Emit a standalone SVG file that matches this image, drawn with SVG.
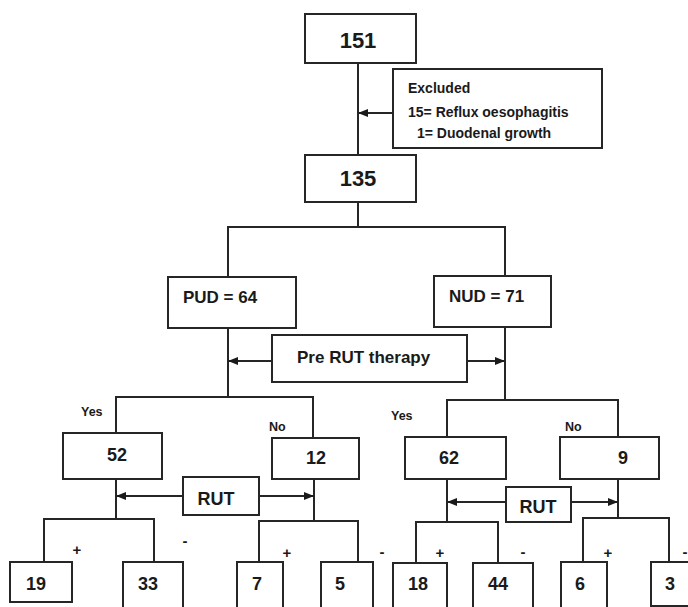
<svg xmlns="http://www.w3.org/2000/svg" width="688" height="607" viewBox="0 0 688 607">
<defs>
<style>
.box{fill:#fff;stroke:#262626;stroke-width:2}
.ln{fill:none;stroke:#262626;stroke-width:2}
.t{font-family:"Liberation Sans",Arial,sans-serif;font-weight:bold;fill:#1a1a1a}
.big{font-size:22px;text-anchor:middle}
.mid{font-size:17px}
.num{font-size:18px;text-anchor:middle}
.sm{font-size:14px}
.lab{font-size:12.5px}
.pm{font-size:15px;text-anchor:middle}
</style>
<marker id="ah" viewBox="0 0 10 10" refX="9" refY="5" markerWidth="10" markerHeight="10" markerUnits="userSpaceOnUse" orient="auto">
<path d="M0,1 L10,5 L0,9 Z" fill="#1a1a1a"/>
</marker>
</defs>
<rect width="688" height="607" fill="#fff"/>
<g id="connectors">
<path class="ln" d="M358,63 V155"/>
<path class="ln" d="M393,113 H359" marker-end="url(#ah)"/>
<path class="ln" d="M358,202 V227 M228,277 V227 H505 V276"/>
<path class="ln" d="M228,328 V397 M505,327 V400"/>
<path class="ln" d="M272,361 H229" marker-end="url(#ah)"/>
<path class="ln" d="M467,361 H504" marker-end="url(#ah)"/>
<path class="ln" d="M116,433 V397 H313 V438"/>
<path class="ln" d="M447,437 V400 H618 V437"/>
<path class="ln" d="M116,479 V519 M314,479 V521"/>
<path class="ln" d="M183,496 H117" marker-end="url(#ah)"/>
<path class="ln" d="M259,496 H313" marker-end="url(#ah)"/>
<path class="ln" d="M44,562 V519 H154 V562"/>
<path class="ln" d="M259,562 V521 H358 V562"/>
<path class="ln" d="M447,479 V522 M618,479 V518"/>
<path class="ln" d="M506,502 H448" marker-end="url(#ah)"/>
<path class="ln" d="M571,502 H617" marker-end="url(#ah)"/>
<path class="ln" d="M416,563 V522 H498 V563"/>
<path class="ln" d="M583,562 V518 H669 V562"/>
</g>
<g id="n151"><rect class="box" x="305" y="14" width="111" height="49"/><text class="t big" x="358" y="48">151</text></g>
<g id="excluded"><rect class="box" x="393" y="69" width="209" height="79"/>
<text class="t sm" x="408" y="93">Excluded</text>
<text class="t sm" x="408" y="117">15= Reflux oesophagitis</text>
<text class="t sm" x="417" y="138">1= Duodenal growth</text></g>
<g id="n135"><rect class="box" x="305" y="155" width="111" height="47"/><text class="t big" x="358" y="186">135</text></g>
<g id="pud"><rect class="box" x="168" y="277" width="128" height="51"/><text class="t mid" x="183" y="303">PUD = 64</text></g>
<g id="nud"><rect class="box" x="434" y="276" width="117" height="51"/><text class="t mid" x="449" y="302">NUD = 71</text></g>
<g id="prerut"><rect class="box" x="272" y="335" width="195" height="47"/><text class="t mid" x="297" y="363">Pre RUT therapy</text></g>
<g id="n52"><rect class="box" x="63" y="433" width="99" height="46"/><text class="t num" x="117" y="461">52</text></g>
<g id="n12"><rect class="box" x="272" y="438" width="87" height="41"/><text class="t num" x="316" y="464">12</text></g>
<g id="rut1"><rect class="box" x="183" y="477" width="76" height="38"/><text class="t num" x="216" y="505">RUT</text></g>
<g id="n62"><rect class="box" x="405" y="437" width="101" height="42"/><text class="t num" x="449" y="464">62</text></g>
<g id="n9"><rect class="box" x="560" y="437" width="99" height="42"/><text class="t num" x="623" y="464">9</text></g>
<g id="rut2"><rect class="box" x="506" y="487" width="65" height="35"/><text class="t num" x="538" y="513">RUT</text></g>
<g id="n19"><rect class="box" x="10" y="562" width="62" height="40"/><text class="t num" x="36" y="590">19</text></g>
<g id="n33"><rect class="box" x="123" y="562" width="60" height="60"/><text class="t num" x="148" y="590">33</text></g>
<g id="n7"><rect class="box" x="237" y="562" width="46" height="60"/><text class="t num" x="257" y="590">7</text></g>
<g id="n5"><rect class="box" x="321" y="562" width="52" height="60"/><text class="t num" x="340" y="590">5</text></g>
<g id="n18"><rect class="box" x="393" y="563" width="54" height="60"/><text class="t num" x="418" y="590">18</text></g>
<g id="n44"><rect class="box" x="473" y="563" width="60" height="60"/><text class="t num" x="498" y="590">44</text></g>
<g id="n6"><rect class="box" x="561" y="562" width="46" height="60"/><text class="t num" x="580" y="590">6</text></g>
<g id="n3"><rect class="box" x="651" y="562" width="50" height="44"/><text class="t num" x="670" y="590">3</text></g>
<g id="labels">
<text class="t lab" x="81" y="416">Yes</text>
<text class="t lab" x="269" y="431">No</text>
<text class="t lab" x="391" y="420">Yes</text>
<text class="t lab" x="565" y="431">No</text>
<text class="t pm" x="77" y="555">+</text>
<text class="t pm" x="185" y="546">-</text>
<text class="t pm" x="287" y="558">+</text>
<text class="t pm" x="382" y="557">-</text>
<text class="t pm" x="440" y="558">+</text>
<text class="t pm" x="523" y="557">-</text>
<text class="t pm" x="608" y="558">+</text>
<text class="t pm" x="685" y="557">-</text>
</g>
</svg>
